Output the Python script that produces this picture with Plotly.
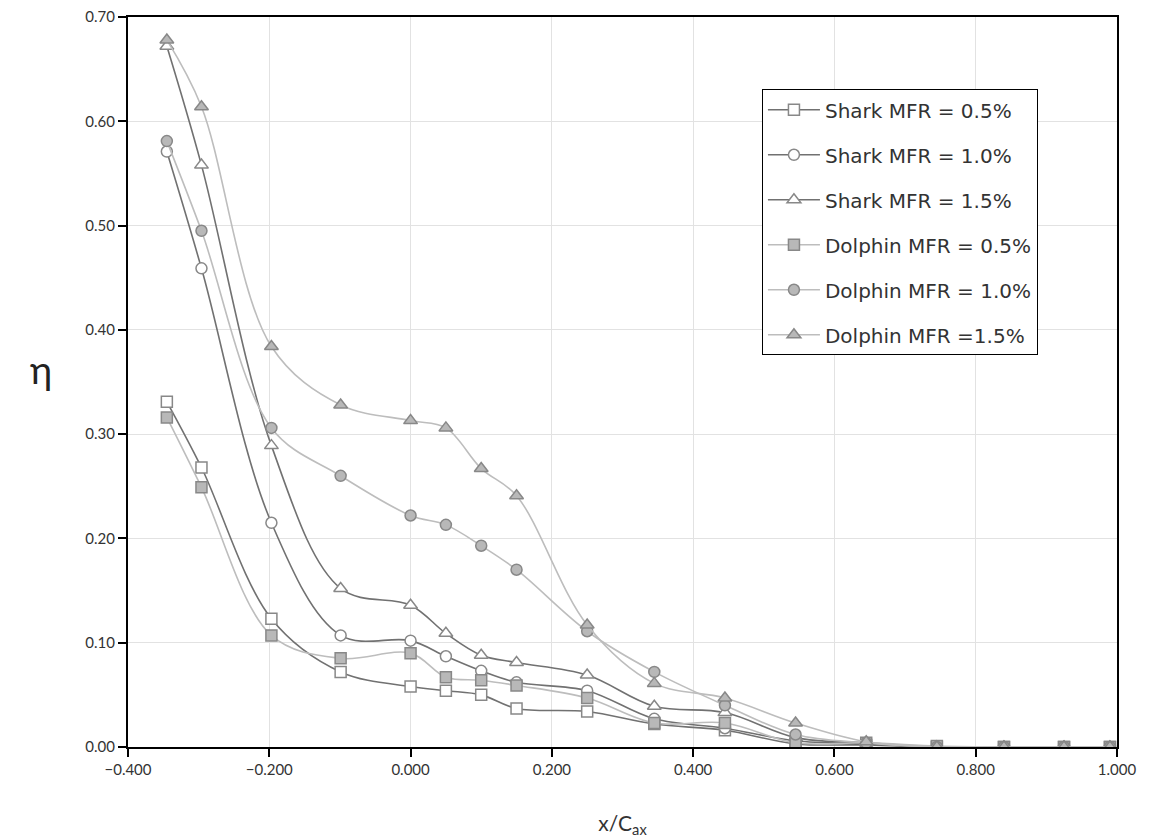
import plotly.graph_objects as go

x_pos = [-0.345, -0.296, -0.197, -0.099, 0.0, 0.05, 0.1, 0.15, 0.25, 0.345, 0.445, 0.545, 0.645, 0.745, 0.84, 0.925, 0.99]

shark_05 = [0.331, 0.268, 0.123, 0.072, 0.058, 0.054, 0.050, 0.037, 0.034, 0.022, 0.016, 0.003, 0.002, 0.0, 0.0, 0.0, 0.0]
shark_10 = [0.571, 0.459, 0.215, 0.107, 0.102, 0.087, 0.073, 0.062, 0.054, 0.027, 0.018, 0.006, 0.003, 0.0, 0.0, 0.0, 0.0]
shark_15 = [0.672, 0.558, 0.289, 0.152, 0.136, 0.109, 0.088, 0.081, 0.069, 0.039, 0.033, 0.009, 0.004, 0.0, 0.0, 0.0, 0.0]
dolphin_05 = [0.316, 0.249, 0.107, 0.085, 0.090, 0.067, 0.064, 0.059, 0.047, 0.023, 0.023, 0.004, 0.004, 0.001, 0.0, 0.0, 0.0]
dolphin_10 = [0.581, 0.495, 0.306, 0.260, 0.222, 0.213, 0.193, 0.170, 0.111, 0.072, 0.040, 0.012, 0.004, 0.0, 0.0, 0.0, 0.0]
dolphin_15 = [0.678, 0.614, 0.384, 0.328, 0.313, 0.306, 0.267, 0.241, 0.117, 0.061, 0.047, 0.023, 0.005, 0.0, 0.0, 0.0, 0.0]

names = ["Shark MFR = 0.5%", "Shark MFR = 1.0%", "Shark MFR = 1.5%",
         "Dolphin MFR = 0.5%", "Dolphin MFR = 1.0%", "Dolphin MFR =1.5%"]
series = [shark_05, shark_10, shark_15, dolphin_05, dolphin_10, dolphin_15]
symbols = ["square", "circle", "triangle-up", "square", "circle", "triangle-up"]

DARK_LINE = "#717171"
LIGHT_LINE = "#bdbdbd"
MARKER_EDGE = "#888888"
FILL = "#b8b8b8"

fig = go.Figure()
for i, (nm, ys, sym) in enumerate(zip(names, series, symbols)):
    shark = i < 3
    fig.add_trace(go.Scatter(
        x=x_pos, y=ys, name=nm, mode="lines+markers",
        legendgroup=f"g{i}",
        line=dict(color=DARK_LINE if shark else LIGHT_LINE, width=1.6, shape="spline", smoothing=1.0),
        marker=dict(symbol=sym, size=11 if sym != "triangle-up" else 12,
                    color="white" if shark else FILL,
                    line=dict(color=MARKER_EDGE, width=1.5)),
    ))

fig.update_layout(
    width=1147, height=832,
    margin=dict(l=120, r=38, t=9, b=93, autoexpand=False),
    paper_bgcolor="white", plot_bgcolor="white",
    font=dict(family="Lato, 'Open Sans', sans-serif", color="#333333", size=15),
    showlegend=True,
    legend=dict(x=0.641, y=0.901, xanchor="left", yanchor="top",
                bordercolor="black", borderwidth=1, bgcolor="white",
                font=dict(family="'DejaVu Sans', sans-serif", size=20, color="#333333"),
                tracegroupgap=16, itemwidth=52),
)
fig.update_xaxes(range=[-0.4, 1.0], dtick=0.2, tick0=-0.4, tickformat=".3f",
                 automargin=False, ticklabeloverflow="allow",
                 showline=True, linecolor="black", linewidth=2, mirror=True,
                 ticks="outside", ticklen=8, tickwidth=2, tickcolor="black",
                 showgrid=True, gridcolor="#e2e2e2", gridwidth=1, zeroline=False,
                 tickfont=dict(size=15, color="#333333"),
                 title=dict(text="x/C<sub>ax</sub>", font=dict(size=21, color="#333333"), standoff=39))
fig.update_yaxes(range=[0, 0.7], dtick=0.1, tick0=0, tickformat=".2f",
                 automargin=False, ticklabeloverflow="allow",
                 showline=True, linecolor="black", linewidth=2, mirror=True,
                 ticks="outside", ticklen=8, tickwidth=2, tickcolor="black",
                 showgrid=True, gridcolor="#e2e2e2", gridwidth=1, zeroline=False,
                 tickfont=dict(size=15, color="#333333"))
fig.add_annotation(text="η", xref="paper", yref="paper", x=-0.088, y=0.518,
                   showarrow=False, font=dict(size=38, color="#222222"),
                   xanchor="center", yanchor="middle")

fig.write_html("out.html")
